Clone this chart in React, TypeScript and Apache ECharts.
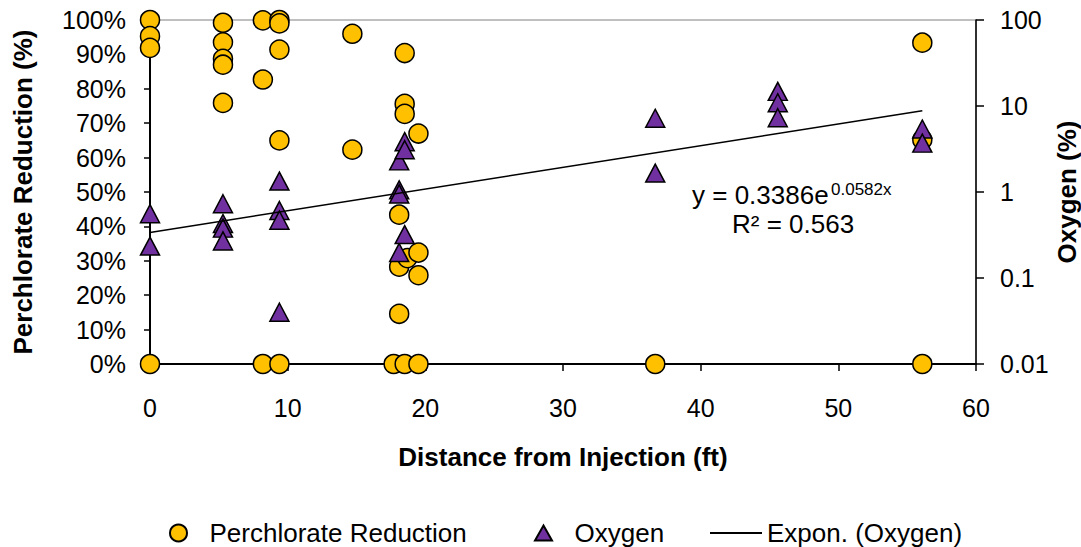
import React, { useEffect, useRef } from "react";
import * as echarts from "echarts";

// Perchlorate reduction (%) vs distance (ft)
const perchlorateX = [
  0, 0, 0, 0,
  5.3, 5.3, 5.3, 5.3, 5.3,
  8.2, 8.2, 8.2,
  9.4, 9.4, 9.4, 9.4, 9.4,
  14.7, 14.7,
  17.7,
  18.1, 18.1, 18.1,
  18.5, 18.5, 18.5, 18.7, 18.5,
  19.5, 19.5, 19.5, 19.5,
  36.7,
  56.1, 56.1, 56.1,
];
const perchloratePct = [
  100, 95.3, 91.9, 0,
  99.2, 93.5, 88.7, 87.0, 75.9,
  99.9, 82.7, 0,
  100, 99.0, 91.4, 65.0, 0,
  96.0, 62.3,
  0,
  43.4, 28.3, 14.6,
  90.4, 75.6, 72.7, 30.8, 0,
  67.0, 32.4, 25.8, 0,
  0,
  93.4, 65.2, 0,
];

// Oxygen (%) vs distance (ft), log axis
const oxygenX = [
  0, 0,
  5.3, 5.3, 5.3, 5.3,
  9.4, 9.4, 9.4, 9.4,
  18.1, 18.1, 18.1, 18.1,
  18.5, 18.5, 18.5,
  36.7, 36.7,
  45.6, 45.6, 45.6,
  56.1, 56.1,
];
const oxygenPct = [
  0.56, 0.235,
  0.73, 0.43, 0.38, 0.27,
  1.34, 0.61, 0.47, 0.040,
  2.3, 1.06, 0.95, 0.198,
  3.85, 3.1, 0.32,
  7.2, 1.66,
  14.8, 10.9, 7.3,
  5.4, 3.7,
];

// Exponential trendline endpoints (straight on a log axis)
const trendX = [0, 56.1];
const trendY = [0.339, 8.8];

const seriesNames = ["Perchlorate Reduction", "Oxygen", "Expon. (Oxygen)"];
const xAxisName = "Distance from Injection (ft)";
const leftAxisName = "Perchlorate Reduction (%)";
const rightAxisName = "Oxygen (%)";
const equationMain = "y = 0.3386e";
const equationExp = "0.0582x";
const equationR2 = "R² = 0.563";

const FONT = "'Liberation Sans', Arial, sans-serif";

export default function App() {
  const ref = useRef<HTMLDivElement>(null);
  useEffect(() => {
    if (!ref.current) return;
    const chart = echarts.init(ref.current, undefined, { renderer: "svg" });
    const fmtLog = (v: number) => String(parseFloat(Number(v).toPrecision(6)));
    const legendText = { fontFamily: FONT, fontSize: 26, lineHeight: 26, color: "#000" };
    chart.setOption({
      animation: false,
      backgroundColor: "#ffffff",
      textStyle: { fontFamily: FONT, color: "#000" },
      grid: {
        left: 150,
        right: 105,
        top: 20,
        bottom: 183,
        show: true,
        borderColor: "#808080",
        borderWidth: 1,
        containLabel: false,
        outerBoundsMode: "none",
      },
      xAxis: {
        type: "value",
        min: 0,
        max: 60,
        interval: 10,
        name: xAxisName,
        nameLocation: "middle",
        nameGap: 80,
        nameTextStyle: { fontFamily: FONT, fontSize: 26, fontWeight: "bold", color: "#000" },
        axisLine: { show: true, onZero: false, lineStyle: { color: "#000", width: 2 } },
        axisTick: { show: true, inside: false, length: 7, lineStyle: { color: "#000", width: 1.5 } },
        axisLabel: { margin: 31, fontFamily: FONT, fontSize: 25, color: "#000" },
        splitLine: { show: false },
      },
      yAxis: [
        {
          type: "value",
          min: 0,
          max: 100,
          interval: 10,
          position: "left",
          name: leftAxisName,
          nameLocation: "middle",
          nameRotate: 90,
          nameGap: 114,
          nameTextStyle: { fontFamily: FONT, fontSize: 26, fontWeight: "bold", color: "#000" },
          axisLine: { show: true, lineStyle: { color: "#000", width: 2 } },
          axisTick: { show: true, inside: false, length: 6, lineStyle: { color: "#000", width: 1.5 } },
          axisLabel: { margin: 24, fontFamily: FONT, fontSize: 25, color: "#000", formatter: "{value}%" },
          splitLine: { show: false },
        },
        {
          type: "log",
          logBase: 10,
          min: 0.01,
          max: 100,
          position: "right",
          axisLine: { show: true, lineStyle: { color: "#000", width: 1.5 } },
          axisTick: { show: true, inside: false, length: 8, lineStyle: { color: "#000", width: 1.5 } },
          axisLabel: { margin: 24, fontFamily: FONT, fontSize: 25, color: "#000", formatter: fmtLog },
          minorTick: { show: false },
          splitLine: { show: false },
        },
      ],
      legend: [
        {
          data: [seriesNames[0]],
          left: 169,
          top: 520,
          padding: 0,
          itemWidth: 52,
          itemHeight: 17,
          textStyle: legendText,
        },
        {
          data: [seriesNames[1]],
          left: 534,
          top: 520,
          padding: 0,
          itemWidth: 52,
          itemHeight: 15,
          icon: "path://M8.5,0 L17,15 L0,15 Z",
          textStyle: legendText,
        },
        {
          data: [{ name: seriesNames[2], icon: "rect" }],
          left: 710,
          top: 520,
          padding: 0,
          itemWidth: 52,
          itemHeight: 2,
          itemStyle: { color: "#000", borderWidth: 0 },
          textStyle: legendText,
        },
      ],
      series: [
        {
          name: seriesNames[0],
          type: "scatter",
          xAxisIndex: 0,
          yAxisIndex: 0,
          symbol: "circle",
          symbolSize: 19,
          itemStyle: { color: "#FFC000", borderColor: "#000", borderWidth: 1.5, opacity: 1 },
          data: perchlorateX.map((x, i) => [x, perchloratePct[i]]),
          z: 2,
        },
        {
          name: seriesNames[1],
          type: "scatter",
          xAxisIndex: 0,
          yAxisIndex: 1,
          symbol: "triangle",
          symbolSize: [19, 18],
          itemStyle: { color: "#7030A0", borderColor: "#000", borderWidth: 1.5, opacity: 1 },
          data: oxygenX.map((x, i) => [x, oxygenPct[i]]),
          z: 3,
        },
        {
          name: seriesNames[2],
          type: "line",
          xAxisIndex: 0,
          yAxisIndex: 1,
          symbol: "none",
          showSymbol: false,
          lineStyle: { color: "#000", width: 1.5 },
          itemStyle: { color: "#000" },
          data: trendX.map((x, i) => [x, trendY[i]]),
          z: 4,
        },
      ],
      graphic: [
        {
          type: "text",
          x: 1067,
          y: 192,
          rotation: Math.PI / 2,
          style: {
            text: rightAxisName,
            font: `bold 26px ${FONT}`,
            fill: "#000",
            align: "center",
            verticalAlign: "middle",
          },
          z: 10,
        },
        {
          type: "text",
          left: 692,
          top: 182,
          style: { text: equationMain, font: `26px ${FONT}`, fill: "#000" },
          z: 10,
        },
        {
          type: "text",
          left: 831,
          top: 181,
          style: { text: equationExp, font: `17px ${FONT}`, fill: "#000" },
          z: 10,
        },
        {
          type: "text",
          left: 732,
          top: 211,
          style: { text: equationR2, font: `26px ${FONT}`, fill: "#000" },
          z: 10,
        },
      ],
    });
    return () => chart.dispose();
  }, []);
  return (
    <div
      ref={ref}
      style={{ position: "fixed", left: 0, top: 0, width: 1081, height: 547, background: "#fff" }}
    />
  );
}
